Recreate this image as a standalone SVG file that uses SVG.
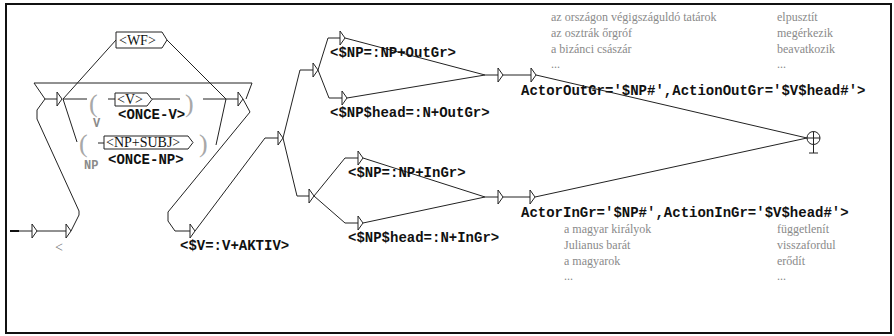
<svg xmlns="http://www.w3.org/2000/svg" xmlns:xlink="http://www.w3.org/1999/xlink" width="894" height="336" viewBox="0 0 894 336">
  <style>
    .ln { fill: none; stroke: #222; stroke-width: 1; }
    .box { fill: #fff; stroke: #222; stroke-width: 1; }
    .out { font-family: "Liberation Mono", "Courier New", monospace; font-weight: bold; font-size: 14px; fill: #111; }
    .lbl { font-family: "Liberation Serif", "Times New Roman", serif; font-size: 14px; fill: #111; }
    .ex { font-family: "Liberation Serif", "Times New Roman", serif; font-size: 12px; fill: #8a8a8a; }
    .par { font-family: "Liberation Serif", "Times New Roman", serif; font-size: 26px; fill: #a8a8a8; }
    .var { font-family: "Liberation Mono", "Courier New", monospace; font-weight: bold; font-size: 12px; fill: #8a8a8a; }
  </style>
  <defs>
    <path id="tri" d="M0,-7 V7 L5,0 Z" fill="#fff" stroke="#222" stroke-width="1"/>
  </defs>

  <!-- frame -->
  <rect x="6" y="4" width="885" height="329" fill="#fff" stroke="#111" stroke-width="2"/>

  <!-- connectors -->
  <g id="edges" class="ln">
    <path d="M19,231 H32"/>
    <path d="M37,231 H66"/>
    <path d="M71,231 L79,215 L79,211 L37,119 L37,110 L45,99 H57"/>
    <path d="M45,99 L34,83 H252 L246,99"/>
    <!-- V branch -->
    <path d="M63,99 H87"/>
    <path d="M108,99 H115"/>
    <path d="M152,99 H180"/>
    <path d="M203,99 H238"/>
    <!-- NP branch -->
    <path d="M63,99 L77,142"/>
    <path d="M98,143 H104"/>
    <path d="M216,145 L226,99"/>
    <!-- WF branch -->
    <path d="M63,99 L116,40"/>
    <path d="M167,40 L226,99"/>
    <!-- to AKTIV -->
    <path d="M243,99 L250,112 L168,212 L168,221 L175,231 H190"/>
    <path d="M195,231 L265,138 H278"/>
    <!-- split -->
    <path d="M283,138 L300,70 H313"/>
    <path d="M283,138 L297,196 H309"/>
    <path d="M318,70 L328,38 H340"/>
    <path d="M318,70 L329,98 H342"/>
    <path d="M314,196 L345,158 H358"/>
    <path d="M314,196 L345,223 H358"/>
    <!-- merge -->
    <path d="M345,38 L485,75 H498"/>
    <path d="M347,98 L485,75"/>
    <path d="M503,75 H531"/>
    <path d="M363,158 L485,197 H498"/>
    <path d="M363,223 L485,197"/>
    <path d="M503,197 H530"/>
    <path d="M536,75 L807,138"/>
    <path d="M535,197 L807,138"/>
  </g>

  <!-- initial state -->
  <g id="n-init">
    <line x1="10" y1="231" x2="19" y2="231" stroke="#111" stroke-width="2"/>
    <use xlink:href="#tri" x="32" y="231"/>
  </g>

  <g id="n-lt">
    <use xlink:href="#tri" x="66" y="231"/>
    <text class="ex" x="55" y="252" style="font-size:14px;fill:#777">&lt;</text>
  </g>

  <g id="n-left">
    <use xlink:href="#tri" x="57" y="99"/>
  </g>

  <g id="n-wf">
    <path class="box" d="M116,32 H162 L167,40 L162,48 H116 Z"/>
    <text class="lbl" x="119" y="45">&lt;WF&gt;</text>
  </g>

  <g id="n-v">
    <text class="par" x="89" y="112">(</text>
    <path class="box" d="M115,93 H147 L152,99.5 L147,106 H115 Z"/>
    <text class="lbl" x="117" y="104">&lt;V&gt;</text>
    <text class="par" x="185" y="112">)</text>
    <text class="var" x="93" y="127">V</text>
    <text class="out" x="118" y="119">&lt;ONCE-V&gt;</text>
  </g>

  <g id="n-np">
    <text class="par" x="79" y="152">(</text>
    <path class="box" d="M104,136 H188 L193,142.5 L188,149 H104 Z"/>
    <text class="lbl" x="106" y="147">&lt;NP+SUBJ&gt;</text>
    <text class="par" x="199" y="152">)</text>
    <text class="var" x="84" y="169">NP</text>
    <text class="out" x="108" y="164">&lt;ONCE-NP&gt;</text>
  </g>

  <g id="n-right">
    <use xlink:href="#tri" x="238" y="99"/>
  </g>

  <g id="n-aktiv">
    <use xlink:href="#tri" x="190" y="231"/>
    <text class="out" x="180" y="250">&lt;$V=:V+AKTIV&gt;</text>
  </g>

  <g id="n-split">
    <use xlink:href="#tri" x="278" y="138"/>
  </g>

  <g id="n-out-split">
    <use xlink:href="#tri" x="313" y="70"/>
  </g>

  <g id="n-out-np">
    <use xlink:href="#tri" x="340" y="38"/>
    <text class="out" x="330" y="57">&lt;$NP=:NP+OutGr&gt;</text>
  </g>

  <g id="n-out-head">
    <use xlink:href="#tri" x="342" y="98"/>
    <text class="out" x="330" y="117">&lt;$NP$head=:N+OutGr&gt;</text>
  </g>

  <g id="n-out-merge">
    <use xlink:href="#tri" x="498" y="75"/>
  </g>

  <g id="n-out-actor">
    <use xlink:href="#tri" x="531" y="75"/>
    <text class="out" x="521" y="95">ActorOutGr='$NP#',ActionOutGr='$V$head#'&gt;</text>
    <text class="ex" x="551" y="21">az országon végigszáguldó tatárok</text>
    <text class="ex" x="551" y="37">az osztrák őrgróf</text>
    <text class="ex" x="551" y="53">a bizánci császár</text>
    <text class="ex" x="551" y="68">...</text>
    <text class="ex" x="777" y="21">elpusztít</text>
    <text class="ex" x="777" y="37">megérkezik</text>
    <text class="ex" x="777" y="53">beavatkozik</text>
    <text class="ex" x="777" y="68">...</text>
  </g>

  <g id="n-in-split">
    <use xlink:href="#tri" x="309" y="196"/>
  </g>

  <g id="n-in-np">
    <use xlink:href="#tri" x="358" y="158"/>
    <text class="out" x="348" y="177">&lt;$NP=:NP+InGr&gt;</text>
  </g>

  <g id="n-in-head">
    <use xlink:href="#tri" x="358" y="223"/>
    <text class="out" x="348" y="242">&lt;$NP$head=:N+InGr&gt;</text>
  </g>

  <g id="n-in-merge">
    <use xlink:href="#tri" x="498" y="197"/>
  </g>

  <g id="n-in-actor">
    <use xlink:href="#tri" x="530" y="197"/>
    <text class="out" x="521" y="217">ActorInGr='$NP#',ActionInGr='$V$head#'&gt;</text>
    <text class="ex" x="564" y="233">a magyar királyok</text>
    <text class="ex" x="564" y="249">Julianus barát</text>
    <text class="ex" x="564" y="265">a magyarok</text>
    <text class="ex" x="564" y="280">...</text>
    <text class="ex" x="777" y="233">függetlenít</text>
    <text class="ex" x="777" y="249">visszafordul</text>
    <text class="ex" x="777" y="265">erődít</text>
    <text class="ex" x="777" y="280">...</text>
  </g>

  <!-- final state -->
  <g id="n-final" class="ln">
    <circle cx="813.5" cy="138" r="6.5"/>
    <path d="M807,138 H820 M813.5,131.5 V153 M809,153 H818"/>
  </g>
</svg>
